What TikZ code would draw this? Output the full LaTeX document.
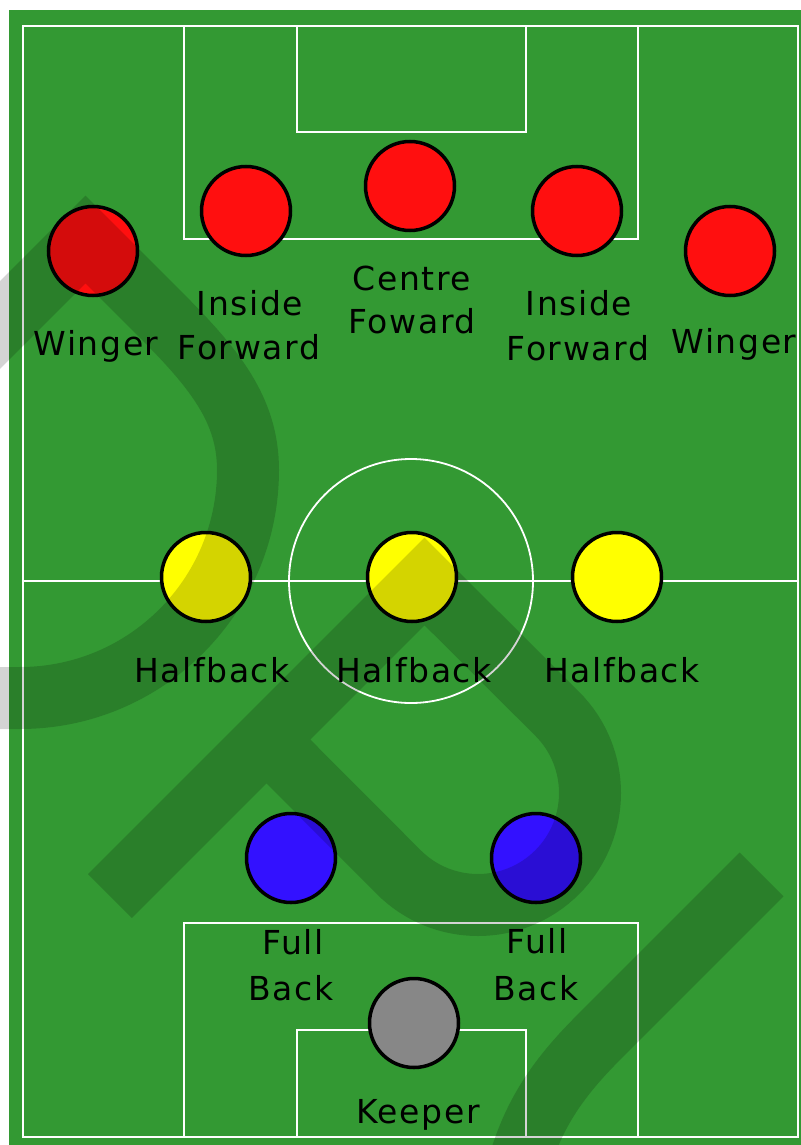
\documentclass[tikz,border=0pt]{standalone}
\usepackage{fontspec}
\setmainfont{DejaVu Sans}[LetterSpace=5]
\definecolor{pitch}{RGB}{51,153,51}
\definecolor{fwdred}{RGB}{255,15,15}
\definecolor{halfyellow}{RGB}{255,255,0}
\definecolor{backblue}{RGB}{51,17,255}
\definecolor{keepgrey}{RGB}{135,135,135}
\begin{document}
\begin{tikzpicture}[x=1pt,y=-1pt,
  pitchline/.style={draw=white,line width=1.8pt},
  player/.style={circle,draw=black,line width=3.5pt,minimum size=89pt,inner sep=0pt},
  lbl/.style={anchor=base,inner sep=0pt,font=\fontsize{33}{40}\selectfont},
  wmark/.style={draw=black,draw opacity=0.17,line width=62pt,line join=miter}]
\useasboundingbox (0,0) rectangle (800,1145);
\fill[white] (0,0) rectangle (800,1145);
\fill[pitch] (9,10) rectangle (801,1146);
% pitch markings
\draw[pitchline] (23,26) rectangle (798,1137);
\draw[pitchline] (184,26) rectangle (638,239);
\draw[pitchline] (297,26) rectangle (526,132);
\draw[pitchline] (184,923) rectangle (638,1137);
\draw[pitchline] (297,1030) rectangle (526,1137);
\draw[pitchline] (23,581) -- (798,581);
\draw[pitchline] (411,581) circle[radius=122];
% players
\node[player,fill=fwdred] (lw) at (93,251) {};
\node[player,fill=fwdred] (lif) at (246,211) {};
\node[player,fill=fwdred] (cf) at (410,186) {};
\node[player,fill=fwdred] (rif) at (577,211) {};
\node[player,fill=fwdred] (rw) at (730,251) {};
\node[player,fill=halfyellow] (lh) at (206,577) {};
\node[player,fill=halfyellow] (ch) at (412,577) {};
\node[player,fill=halfyellow] (rh) at (617,577) {};
\node[player,fill=backblue] (lb) at (291,858) {};
\node[player,fill=backblue] (rb) at (536,858) {};
\node[player,fill=keepgrey] (gk) at (414,1023) {};
% labels
\node[lbl] (lwt) at (96,355) {Winger};
\node[lbl] (lift1) at (250,315) {Inside};
\node[lbl] (lift2) at (249,359) {Forward};
\node[lbl] (cft1) at (412,290) {Centre};
\node[lbl] (cft2) at (412,333) {Foward};
\node[lbl] (rift1) at (579,315) {Inside};
\node[lbl] (rift2) at (578,360) {Forward};
\node[lbl] (rwt) at (734,353) {Winger};
\node[lbl] (lht) at (212,682) {Halfback};
\node[lbl] (cht) at (414,682) {Halfback};
\node[lbl] (rht) at (622,682) {Halfback};
\node[lbl] (lbt1) at (293,954) {Full};
\node[lbl] (lbt2) at (291,1000) {Back};
\node[lbl] (rbt1) at (537,953) {Full};
\node[lbl] (rbt2) at (536,1000) {Back};
\node[lbl] (gkt) at (418,1123) {Keeper};
% watermark overlay
\begin{scope}
\clip (0,0) rectangle (800,1145);
\draw[wmark]
  (-80,405) -- (85.5,239.5) -- (160,314) .. controls (215,369) and (248,410) .. (248,470)
  arc[start angle=0,end angle=90,radius=228] -- (-80,698)
  (110,896) -- (424.5,581.5) -- (557.2,713.8)
  arc[start angle=-45,end angle=135,radius=112] -- (266.5,739.5)
  (761.5,874.5) -- (600,1036) .. controls (560,1076) and (530,1115) .. (515,1180);
\end{scope}
\end{tikzpicture}
\end{document}
